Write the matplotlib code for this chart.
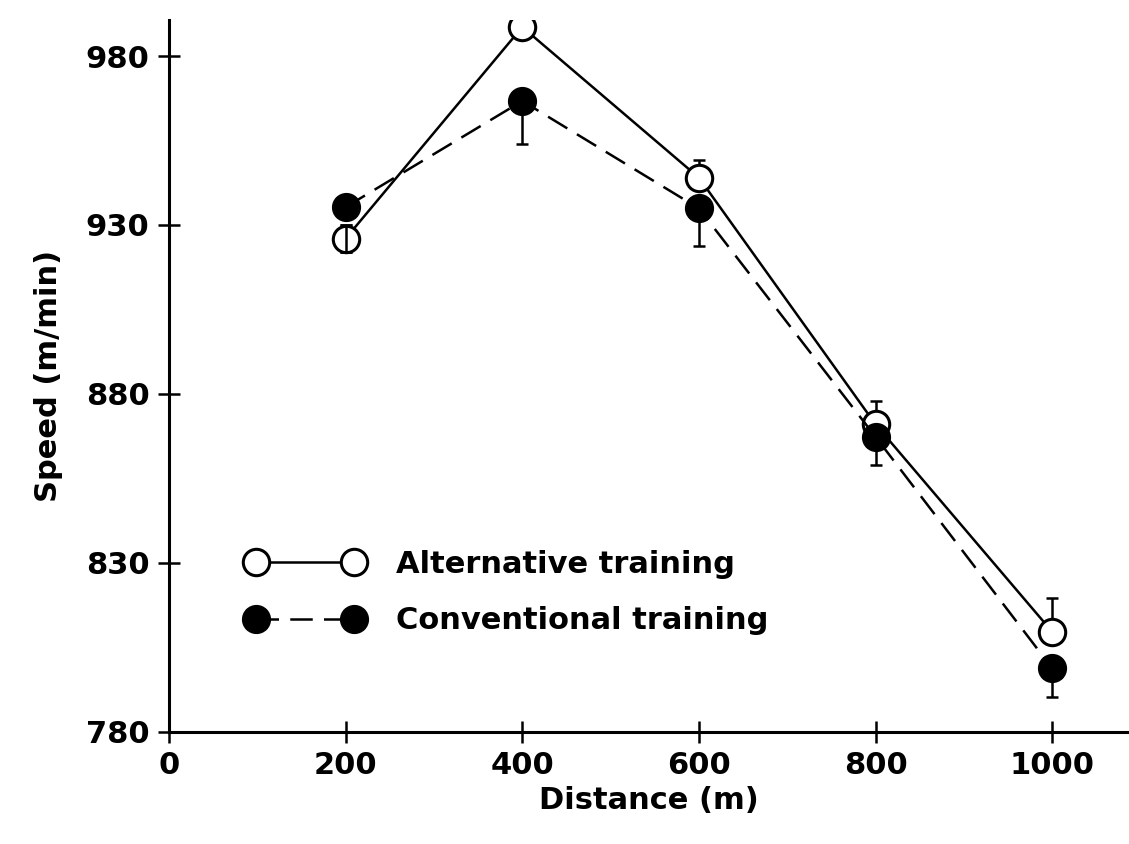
import numpy as np
import matplotlib
matplotlib.use('Agg')
import matplotlib.pyplot as plt

plt.rcParams['font.family'] = ['DejaVu Sans']

distance = [200, 400, 600, 800, 1000]
alt_speed = [926.0, 988.6, 944.0, 871.0, 809.6]
alt_err_up = [4.0, 0.0, 5.3, 6.9, 9.9]
alt_err_lo = [4.0, 0.0, 0.0, 0.0, 0.0]
conv_speed = [935.3, 966.7, 934.9, 867.3, 798.8]
conv_err_up = [0.0, 0.0, 0.0, 0.0, 0.0]
conv_err_lo = [0.0, 12.6, 11.2, 8.4, 8.6]

x_ticks = [0, 200, 400, 600, 800, 1000]
y_ticks = [780, 830, 880, 930, 980]


def main():
    fig = plt.figure(figsize=(11.29, 8.44), dpi=100)
    ax = fig.add_axes([0.1497, 0.133, 0.8503, 0.843])

    fs = 22
    ms = 19

    # error bars first, under the markers
    ax.errorbar(distance, alt_speed, yerr=[alt_err_lo, alt_err_up], fmt='none',
                ecolor='black', elinewidth=1.8, capsize=4.3, capthick=1.8, zorder=2)
    ax.errorbar(distance, conv_speed, yerr=[conv_err_lo, conv_err_up], fmt='none',
                ecolor='black', elinewidth=1.8, capsize=4.3, capthick=1.8, zorder=2)

    ax.plot(distance, alt_speed, linestyle='-', color='black', linewidth=1.8,
            marker='o', markersize=ms, markerfacecolor='white', markeredgecolor='black',
            markeredgewidth=2.2, label='Alternative training', zorder=3)
    ax.plot(distance, conv_speed, linestyle=(0, (9, 4.5)), color='black', linewidth=1.8,
            marker='o', markersize=ms + 1, markerfacecolor='black', markeredgecolor='black',
            label='Conventional training', zorder=4)

    # the bar at 200 m shows through the open circle
    ax.errorbar(distance[:1], alt_speed[:1], yerr=[alt_err_lo[:1], alt_err_up[:1]], fmt='none',
                ecolor='black', elinewidth=1.8, capsize=4.3, capthick=1.8, zorder=5)

    ax.set_xlim(0, 1087)
    ax.set_ylim(780, 990.6)
    ax.set_xticks(x_ticks)
    ax.set_yticks(y_ticks)

    for s in ['top', 'right']:
        ax.spines[s].set_visible(False)
    for s in ['left', 'bottom']:
        ax.spines[s].set_linewidth(2.2)

    ax.tick_params(direction='inout', length=16, width=1.8, labelsize=fs, pad=6)
    for label in ax.get_xticklabels() + ax.get_yticklabels():
        label.set_fontweight('bold')

    ax.set_xlabel('Distance (m)', fontsize=fs, fontweight='bold', labelpad=4)
    ax.set_ylabel('Speed (m/min)', fontsize=fs, fontweight='bold', labelpad=16)

    ax.legend(loc='center left', bbox_to_anchor=(0.081, 0.1956), frameon=False,
              numpoints=2, handlelength=3.8, handletextpad=1.1, labelspacing=0.9,
              borderpad=0, borderaxespad=0, prop={'size': fs, 'weight': 'bold'})

    fig.savefig('out.png', dpi=100)


if __name__ == '__main__':
    main()
